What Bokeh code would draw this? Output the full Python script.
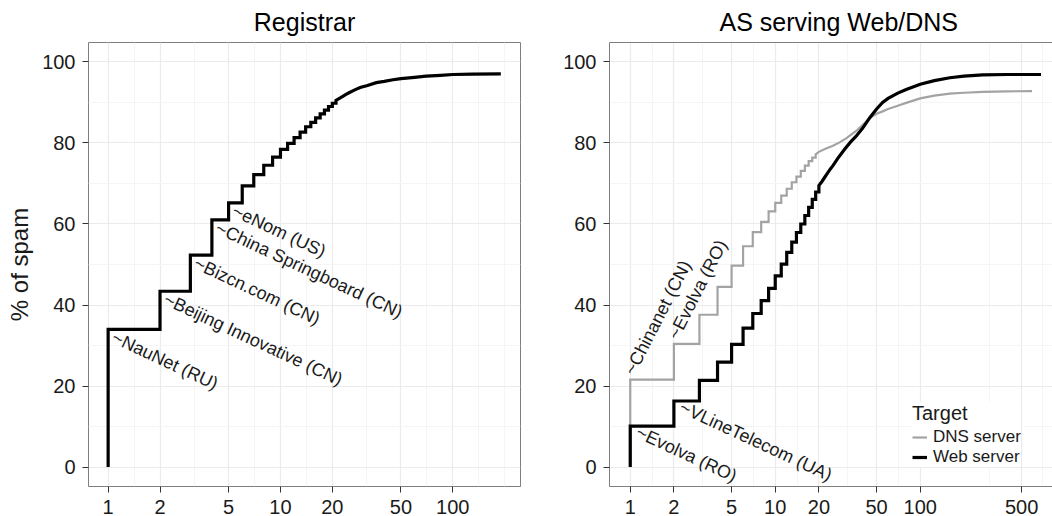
from bokeh.plotting import figure
from bokeh.layouts import row
from bokeh.models import (FixedTicker, BasicTickFormatter, Legend, LegendItem,
                          LinearAxis, Range1d)
from bokeh.core.properties import value
from bokeh.embed import file_html
from bokeh.resources import INLINE

FONT = "Liberation Sans"

# ---------------- data: Registrar panel ----------------
reg_step_x = list(range(1, 22))
reg_step_y = [34.0, 43.4, 52.3, 61.0, 65.2, 69.4, 72.2, 74.5, 76.5, 78.4,
              79.9, 81.3, 82.7, 84.0, 85.1, 86.2, 87.2, 88.1, 89.0, 89.8, 90.5]
reg_tail_x = [22, 23, 24, 25, 27, 29, 32, 36, 40, 45, 50, 60, 70, 85, 100, 130, 190]
reg_tail_y = [91.0, 91.5, 92.0, 92.4, 93.1, 93.7, 94.2, 94.9, 95.2, 95.6, 95.9,
              96.2, 96.5, 96.7, 96.9, 97.0, 97.05]
reg_label_x = [1, 2, 3, 4, 5]
reg_label_text = ["~NauNet (RU)", "~Beijing Innovative (CN)", "~Bizcn.com (CN)",
                  "~China Springboard (CN)", "~eNom (US)"]

# ---------------- data: AS serving Web/DNS panel ----------------
web_step_x = list(range(1, 21))
web_step_y = [10.1, 16.3, 21.4, 25.9, 30.3, 34.3, 37.9, 41.1, 44.1, 47.2,
              50.1, 53.0, 55.5, 57.9, 60.0, 62.1, 64.1, 66.1, 67.9, 69.5]
web_tail_x = [21, 22, 23, 24, 25, 27, 30, 33, 36, 40, 45, 50, 55, 60, 70, 80,
              100, 125, 160, 200, 270, 400, 680]
web_tail_y = [70.5, 71.6, 72.6, 73.6, 74.4, 76.2, 78.4, 80.2, 81.6, 83.6, 86.3,
              88.4, 90.0, 91.0, 92.3, 93.2, 94.5, 95.4, 96.1, 96.5, 96.8, 96.9, 96.9]

dns_step_x = list(range(1, 20))
dns_step_y = [21.6, 30.4, 37.6, 44.5, 49.7, 54.5, 58.0, 60.5, 63.1, 65.2,
              67.0, 68.7, 70.3, 71.7, 73.1, 74.4, 75.5, 76.4, 77.2]
dns_tail_x = [20, 22, 25, 28, 31, 36, 40, 45, 50, 55, 60, 70, 80, 100, 125,
              160, 200, 270, 400, 590]
dns_tail_y = [77.8, 78.5, 79.3, 80.2, 81.2, 82.9, 84.4, 86.2, 87.2, 87.8, 88.4,
              89.2, 89.9, 91.0, 91.7, 92.2, 92.4, 92.6, 92.75, 92.8]

dns_label_x = [1, 2]
dns_label_text = ["~Chinanet (CN)", "~Evolva (RO)"]
web_label_x = [1, 2]
web_label_text = ["~Evolva (RO)", "~VLineTelecom (UA)"]

legend_labels = ["DNS server", "Web server"]

x_ticks_reg = [1, 2, 5, 10, 20, 50, 100]
x_ticks_as = [1, 2, 5, 10, 20, 50, 100, 500]
y_ticks = [0, 20, 40, 60, 80, 100]


def step_path(sx, sy, tx, ty):
    xs, ys = [sx[0]], [0.0]
    for i, (x, y) in enumerate(zip(sx, sy)):
        if i > 0:
            xs.append(x)
            ys.append(sy[i - 1])
        xs.append(x)
        ys.append(y)
    return xs + list(tx), ys + list(ty)


def label_y(lx, sx, sy):
    return [sy[sx.index(v)] for v in lx]


BORDER = "#7f7f7f"
TXT = "#1a1a1a"


def make_fig(title, width, xr, mbl, mbr, xticks, xminor):
    p = figure(width=width, height=516, x_axis_type="log",
               x_range=Range1d(*xr), y_range=Range1d(-4.8, 104.8),
               output_backend="svg", toolbar_location=None,
               min_border_left=mbl, min_border_right=mbr,
               min_border_top=42, min_border_bottom=30,
               background_fill_color="white", border_fill_color="white")
    p.title.text = title
    p.title.align = "center"
    p.title.vertical_align = "top"
    p.title.text_font = FONT
    p.title.text_font_size = "25px"
    p.title.text_font_style = "normal"
    p.title.text_color = "black"
    p.title.standoff = 10
    xt = FixedTicker(ticks=xticks, minor_ticks=xminor)
    yt = FixedTicker(ticks=y_ticks, minor_ticks=[10, 30, 50, 70, 90])
    p.xaxis.ticker = xt
    p.xgrid.ticker = xt
    p.yaxis.ticker = yt
    p.ygrid.ticker = yt
    p.xaxis.formatter = BasicTickFormatter(use_scientific=False)
    for ax in (p.xaxis, p.yaxis):
        ax.major_tick_line_color = "#333333"
        ax.major_tick_out = 6
        ax.major_tick_in = 0
        ax.minor_tick_line_color = None
        ax.major_label_text_font = FONT
        ax.major_label_text_font_size = "20px"
        ax.major_label_text_color = TXT
    p.xaxis.major_label_standoff = 7
    p.yaxis.major_label_standoff = 7
    for g in (p.xgrid, p.ygrid):
        g.grid_line_color = "#EBEBEB"
        g.grid_line_width = 1.2
        g.minor_grid_line_color = "#F5F5F5"
        g.minor_grid_line_width = 1
    return p


# ---------------- left panel ----------------
p1 = make_fig("Registrar", 560, (10 ** -0.114, 10 ** 2.393), 88, 40,
              x_ticks_reg, [1.414, 3.162, 7.071, 14.14, 31.62, 70.71, 141.4, 200])
p1.outline_line_color = BORDER
p1.outline_line_width = 1
p1.xaxis.axis_line_color = None
p1.yaxis.axis_line_color = None
p1.yaxis.axis_label = "% of spam"
p1.yaxis.axis_label_text_font = FONT
p1.yaxis.axis_label_text_font_size = "24px"
p1.yaxis.axis_label_text_font_style = "normal"
p1.yaxis.axis_label_text_color = TXT
p1.yaxis.axis_label_standoff = 6

rx, ry = step_path(reg_step_x, reg_step_y, reg_tail_x, reg_tail_y)
p1.line(rx, ry, line_color="black", line_width=3.2, line_join="miter")
p1.text(x=reg_label_x, y=label_y(reg_label_x, reg_step_x, reg_step_y),
        text=reg_label_text, angle=-25, angle_units="deg",
        text_font=value(FONT), text_font_size=value("18px"),
        text_align="left", text_baseline="middle",
        x_offset=5, y_offset=7, text_color=TXT)

# ---------------- right panel ----------------
p2 = make_fig("AS serving Web/DNS", 492, (10 ** -0.143, 10 ** 2.912), 49, 0,
              x_ticks_as, [1.414, 3.162, 7.071, 14.14, 31.62, 70.71, 300, 700])
p2.outline_line_color = None
p2.xaxis.axis_line_color = BORDER
p2.yaxis.axis_line_color = BORDER
top_axis = LinearAxis(ticker=FixedTicker(ticks=[]), axis_line_color=BORDER,
                      major_tick_line_color=None, minor_tick_line_color=None)
p2.add_layout(top_axis, "above")
p2.title.align = "left"
p2.title.offset = 110

dx, dy = step_path(dns_step_x, dns_step_y, dns_tail_x, dns_tail_y)
wx, wy = step_path(web_step_x, web_step_y, web_tail_x, web_tail_y)
r_dns = p2.line(dx, dy, line_color="#A3A3A3", line_width=2.2, line_join="miter")
r_web = p2.line(wx, wy, line_color="black", line_width=3.2, line_join="miter")

p2.text(x=dns_label_x, y=label_y(dns_label_x, dns_step_x, dns_step_y),
        text=dns_label_text, angle=63, angle_units="deg",
        text_font=value(FONT), text_font_size=value("18px"),
        text_align="left", text_baseline="middle",
        x_offset=-1, y_offset=-6, text_color=TXT)
p2.text(x=web_label_x, y=label_y(web_label_x, web_step_x, web_step_y),
        text=web_label_text, angle=-25, angle_units="deg",
        text_font=value(FONT), text_font_size=value("18px"),
        text_align="left", text_baseline="middle",
        x_offset=7, y_offset=5, text_color=TXT)

legend = Legend(items=[LegendItem(label=legend_labels[0], renderers=[r_dns]),
                       LegendItem(label=legend_labels[1], renderers=[r_web])],
                title="Target", location=(303, 19))
legend.title_text_font = FONT
legend.title_text_font_size = "20px"
legend.title_text_font_style = "normal"
legend.title_text_color = TXT
legend.label_text_font = FONT
legend.label_text_font_size = "17px"
legend.label_text_color = TXT
legend.border_line_color = None
legend.background_fill_color = "white"
legend.background_fill_alpha = 1
legend.glyph_width = 15
legend.glyph_height = 16
legend.label_height = 16
legend.label_standoff = 6
legend.spacing = -2
legend.padding = 6
legend.margin = 0
legend.title_standoff = 2
p2.add_layout(legend)

layout = row(p1, p2)
open("out.html", "w").write(file_html(layout, INLINE))
